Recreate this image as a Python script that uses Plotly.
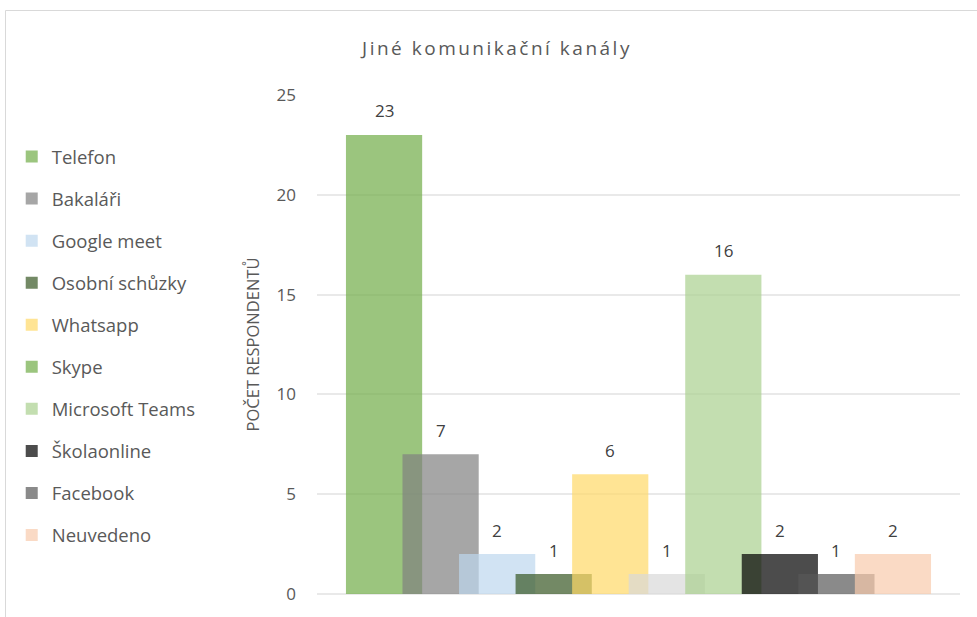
import plotly.graph_objects as go

# ---------------- data ----------------
channels = ["Telefon", "Bakaláři", "Google meet", "Osobní schůzky", "Whatsapp",
            "Skype", "Microsoft Teams", "Školaonline", "Facebook", "Neuvedeno"]
counts = [23, 7, 2, 1, 6, 1, 16, 2, 1, 2]
y_ticks = [0, 5, 10, 15, 20, 25]
chart_title = "Jiné komunikační kanály"
y_title = "POČET RESPONDENTŮ"

# ---------------- style ----------------
bar_colors = ["#70AD47", "#808080", "#BDD7EE", "#385723", "#FFD966",
              "#D9D9D9", "#A9D08E", "#000000", "#595959", "#F8CBAD"]
legend_colors = ["#70AD47", "#808080", "#BDD7EE", "#385723", "#FFD966",
                 "#70AD47", "#A9D08E", "#000000", "#595959", "#F8CBAD"]
OPACITY = 0.7
FONT = "Open Sans"
TXT = "#595959"


def rgba(hex_color, a=OPACITY):
    h = hex_color.lstrip("#")
    r, g, b = int(h[0:2], 16), int(h[2:4], 16), int(h[4:6], 16)
    return f"rgba({r},{g},{b},{a})"


W, H = 977, 617
M_L, M_R, M_T, M_B = 317, 17, 95, 23

# Excel-like clustered bars: gap width & overlap
gap_width = 0.76
overlap = 0.258
n = len(channels)
bw = 1.0 / (1 + (n - 1) * (1 - overlap) + gap_width)
start = -0.5 + gap_width * bw / 2
offsets = [start + i * bw * (1 - overlap) for i in range(n)]

fig = go.Figure()

for i, (name, val) in enumerate(zip(channels, counts)):
    fig.add_trace(go.Bar(
        x=[0], y=[val], name=name, width=[bw], offset=[offsets[i]],
        marker=dict(color=rgba(bar_colors[i]), line=dict(width=0)),
        showlegend=False, hoverinfo="name+y",
    ))

# legend entries (series colours)
for i, name in enumerate(channels):
    fig.add_trace(go.Bar(
        x=[None], y=[None], name=name,
        marker=dict(color=rgba(legend_colors[i]), line=dict(width=0)),
        legendgroup=f"g{i}", showlegend=True,
    ))

# data labels
for i, val in enumerate(counts):
    fig.add_annotation(
        x=offsets[i] + bw / 2, y=val, text=str(val), showarrow=False,
        yshift=24, yanchor="middle", xanchor="center",
        font=dict(family=FONT, size=17, color="#404040"),
    )

# chart border (partially outside the image, as in the reference)
fig.add_shape(
    type="rect", xref="paper", yref="paper",
    x0=(5.5 - M_L) / (W - M_L - M_R), x1=1.2,
    y0=-0.3, y1=1 + (M_T - 10.5) / (H - M_T - M_B),
    line=dict(color="#D9D9D9", width=1), fillcolor="rgba(0,0,0,0)", layer="below",
)

fig.update_layout(
    width=W, height=H,
    margin=dict(l=M_L, r=M_R, t=M_T, b=M_B, pad=0),
    paper_bgcolor="white", plot_bgcolor="white",
    barmode="overlay",
    font=dict(family=FONT, size=17, color=TXT),
    title=dict(
        text=f'<span style="letter-spacing:2.5px">{chart_title}</span>',
        x=497 / W, xref="container", xanchor="center",
        y=1 - 48 / H, yref="container", yanchor="middle",
        font=dict(family=FONT, size=19, color=TXT),
    ),
    xaxis=dict(range=[-0.5, 0.5], showticklabels=False, showgrid=False,
               zeroline=False, showline=False, ticks="", fixedrange=True),
    yaxis=dict(
        range=[0, 25], tickvals=y_ticks, ticktext=[str(t) for t in y_ticks],
        showgrid=True, gridcolor="#E9E9E9", gridwidth=1.5,
        zeroline=True, zerolinecolor="#E9E9E9", zerolinewidth=1.5,
        showline=False, ticks="", ticklabelstandoff=20,
        tickfont=dict(family=FONT, size=17, color=TXT),
        title=dict(text=y_title, standoff=12,
                   font=dict(family=FONT, size=16.5, color=TXT)),
    ),
    legend=dict(
        xref="container", yref="container", x=0.012, xanchor="left",
        y=1 - 138 / H, yanchor="top", maxheight=600,
        traceorder="grouped", tracegroupgap=15,
        font=dict(family=FONT, size=18.5, color=TXT),
        itemwidth=30, bgcolor="rgba(0,0,0,0)",
    ),
)

fig.write_html("out.html", config={"displayModeBar": False},
               post_script="document.body.style.margin='0';document.body.style.padding='0';")
